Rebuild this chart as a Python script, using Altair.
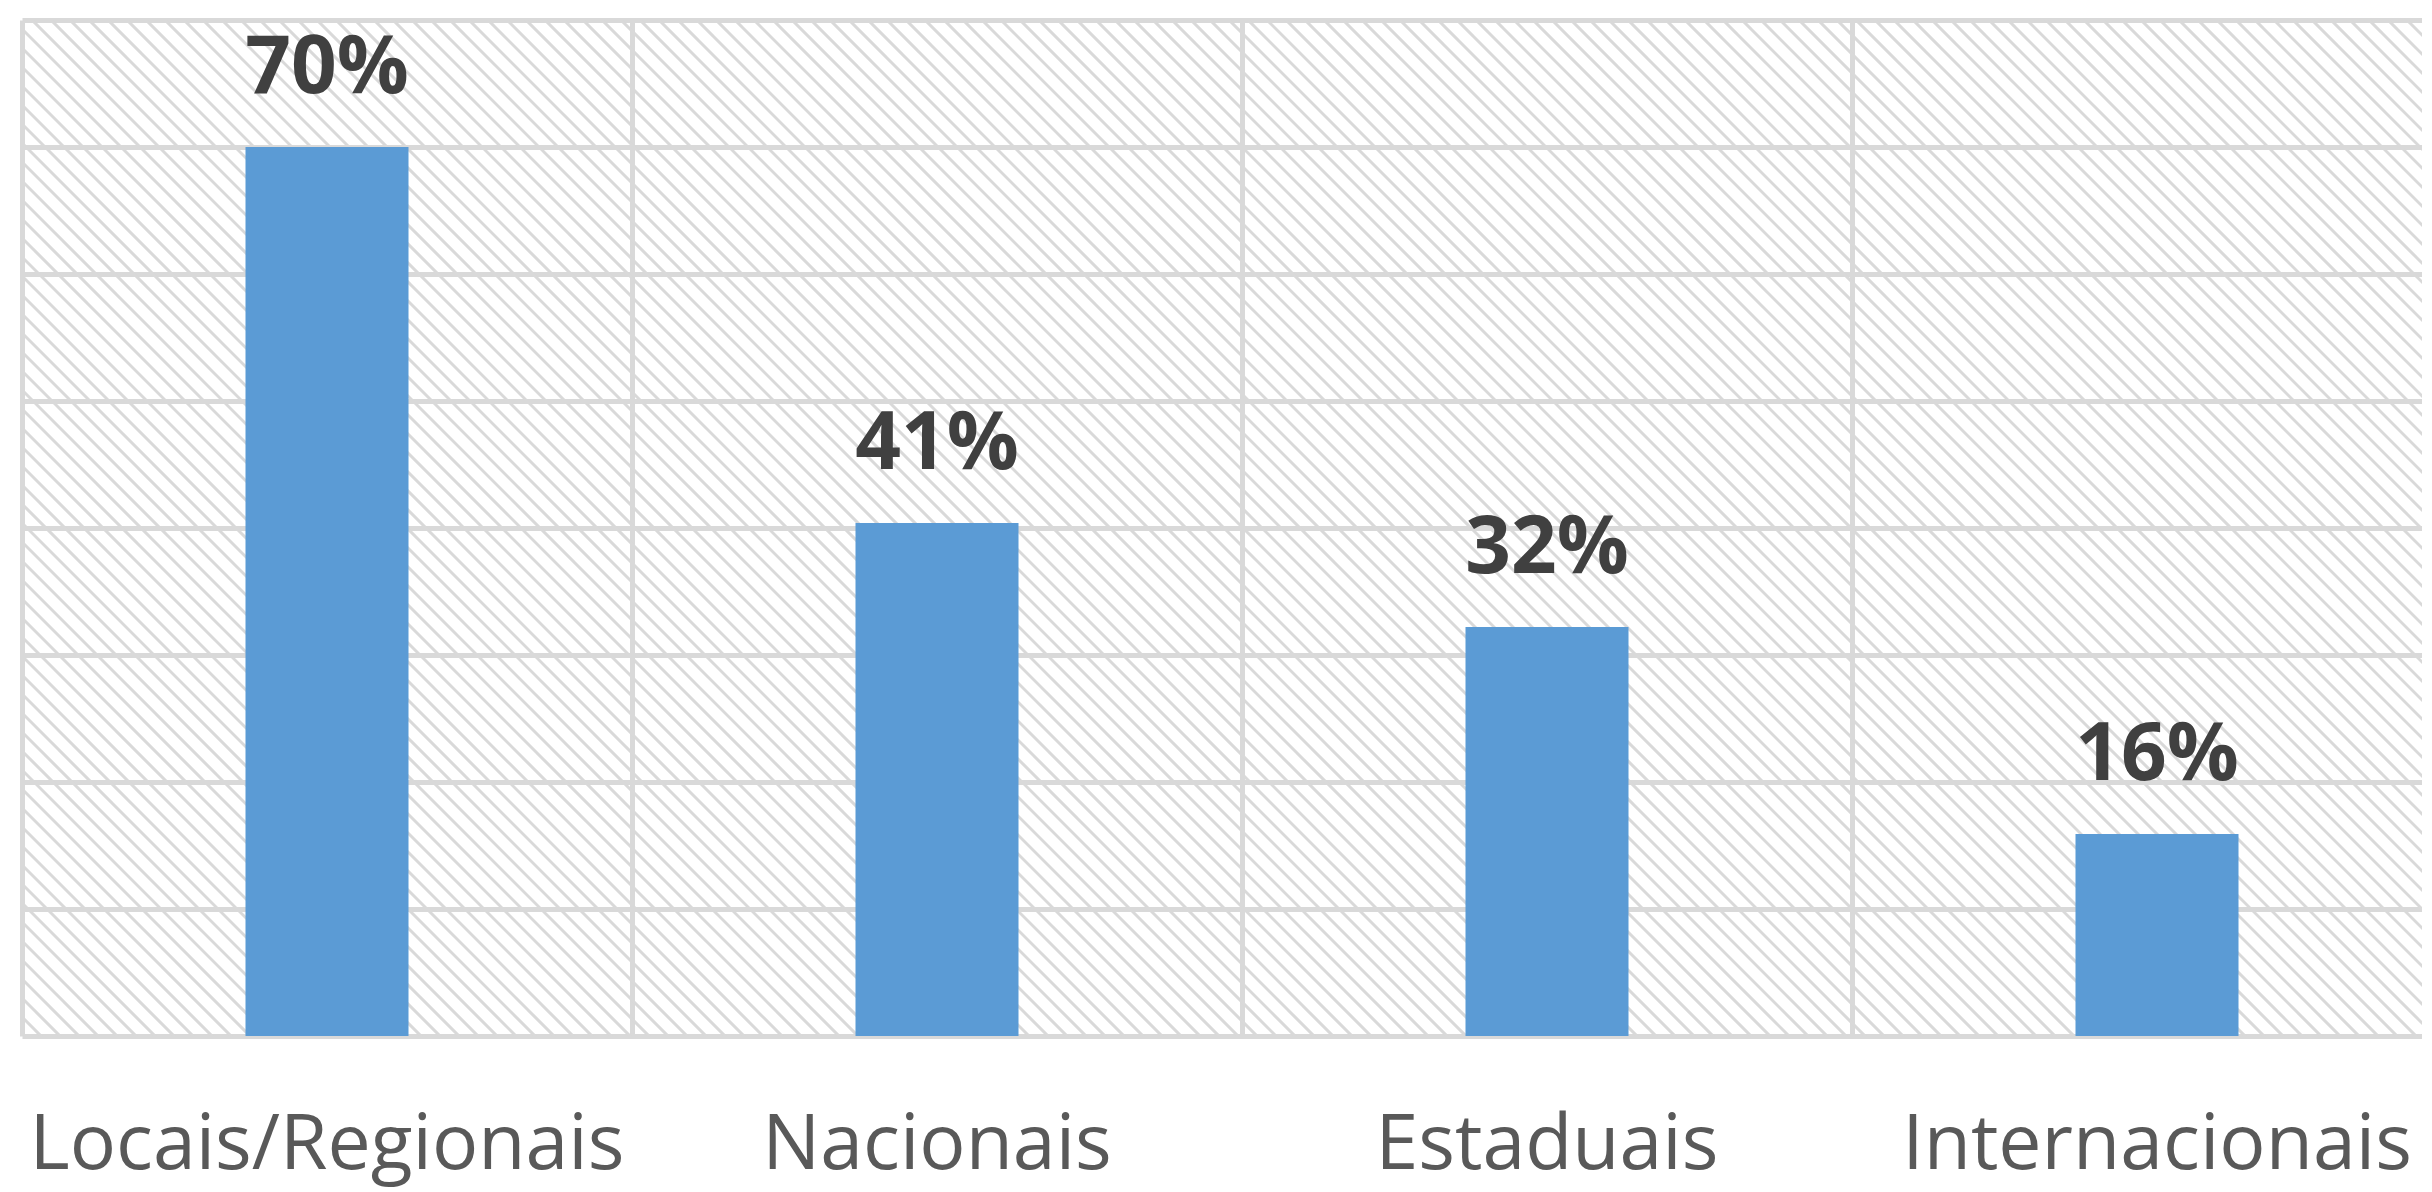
import altair as alt
import pandas as pd

# ---- data ----
categories = ["Locais/Regionais", "Nacionais", "Estaduais", "Internacionais"]
values = [70, 40.4, 32.2, 15.9]
value_labels = ["70%", "41%", "32%", "16%"]
grid_values = [0, 10, 20, 30, 40, 50, 60, 70, 80]

df = pd.DataFrame({"cat": categories, "val": values, "lab": value_labels})

PLOT_W = 2440      # full band range (right part runs off the picture)
VIEW_W = 2400
VIEW_H = 1016
Y_MAX = 80
GRID = "#D9D9D9"
UNITS_PER_PX = Y_MAX / VIEW_H
HATCH_STEP = 19 * UNITS_PER_PX
HATCH_DROP = PLOT_W * UNITS_PER_PX

x_band = alt.X(
    "cat:N",
    sort=categories,
    scale=alt.Scale(range=[0, PLOT_W], paddingInner=0, paddingOuter=0),
    axis=alt.Axis(
        title=None, domain=False, ticks=False, tickSize=0,
        labelFont="Open Sans", labelFontSize=77, labelColor="#595959",
        labelBaseline="alphabetic", labelPadding=132, labelAngle=0,
        labelLimit=2000,
        grid=True, gridColor=GRID, gridWidth=5, bandPosition=0,
        labelOverlap=False, orient="bottom",
    ),
)
y_val = alt.Y(
    "val:Q",
    scale=alt.Scale(domain=[0, Y_MAX], nice=False, zero=True),
    axis=alt.Axis(
        values=grid_values, labels=False, ticks=False, domain=False,
        title=None, grid=True, gridColor=GRID, gridWidth=5,
    ),
)

# diagonal hatch decoration of the plot background
hatch = (
    alt.Chart(alt.sequence(start=0, stop=Y_MAX + HATCH_DROP + HATCH_STEP, step=HATCH_STEP, as_="t"))
    .transform_calculate(t2=f"datum.t - {HATCH_DROP}")
    .mark_rule(color=GRID, strokeWidth=3.0, clip=True)
    .encode(
        y=alt.Y("t:Q"),
        y2="t2:Q",
        x=alt.value(0),
        x2=alt.value(PLOT_W),
    )
)

bars = alt.Chart(df).mark_bar(size=163, color="#5B9BD5").encode(x=x_band, y=y_val)

texts = alt.Chart(df).mark_text(
    font="Open Sans", fontSize=80, fontWeight="bold", color="#404040",
    baseline="alphabetic", align="center", dy=-54,
).encode(
    x=alt.X("cat:N", sort=categories),
    y=alt.Y("val:Q"),
    text="lab:N",
)

chart = (
    alt.layer(hatch, bars, texts)
    .properties(
        width=VIEW_W, height=VIEW_H,
        autosize=alt.AutoSizeParams(type="none"),
        padding={"left": 14, "top": 12, "right": 0, "bottom": 156},
        background="white",
    )
    .configure_view(stroke=None)
)

chart.save("out.html", embed_options={"renderer": "svg", "actions": False})
